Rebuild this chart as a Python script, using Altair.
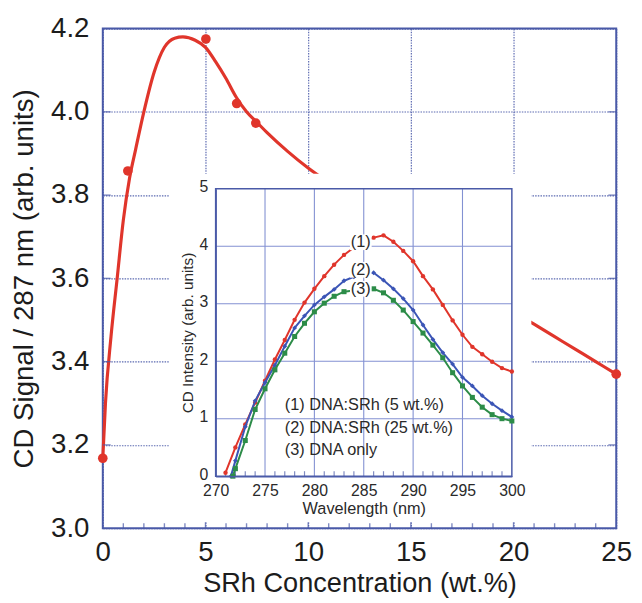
import altair as alt
import pandas as pd

# ---------------- main plot: CD signal at 287 nm vs SRh concentration ----------------
conc_meas = [0.0, 1.22, 5.02, 6.52, 7.45, 25.0]
cd_meas = [3.168, 3.858, 4.175, 4.020, 3.973, 3.370]

conc_fit = [0, 0.13, 0.4, 0.7, 1.0, 1.3, 1.6, 2.0, 2.5, 3.0, 3.5, 3.9, 4.5, 5.0, 5.5,
            6.0, 6.5, 7.0, 7.5, 8.0, 9.0, 10.0, 11.0, 12.5, 14.0, 16.0, 18.0, 20.0,
            21.0, 22.0, 23.0, 24.0, 25.0]
cd_fit = [3.168, 3.30, 3.46, 3.60, 3.74, 3.84, 3.91, 4.00, 4.095, 4.155, 4.177, 4.18,
          4.172, 4.155, 4.12, 4.08, 4.035, 4.00, 3.975, 3.95, 3.905, 3.865, 3.83, 3.78,
          3.73, 3.66, 3.59, 3.52, 3.49, 3.46, 3.43, 3.40, 3.37]

main_x_ticks = [0, 5, 10, 15, 20, 25]
main_y_ticks = [3.0, 3.2, 3.4, 3.6, 3.8, 4.0, 4.2]
main_x_minor = [1, 2, 3, 4, 6, 7, 8, 9, 11, 12, 13, 14, 16, 17, 18, 19, 21, 22, 23, 24]
main_x_major = [5, 10, 15, 20]
main_y_inner = [3.2, 3.4, 3.6, 3.8, 4.0]

# ---------------- inset: CD spectra ----------------
wl_1 = list(range(271, 301))
cd_1 = [0.06, 0.50, 0.90, 1.28, 1.66, 2.03, 2.37, 2.72, 3.02, 3.26, 3.48, 3.68, 3.85,
        3.98, 4.10, 4.15, 4.19, 4.08, 3.92, 3.74, 3.48, 3.25, 2.98, 2.71, 2.46, 2.25,
        2.12, 1.99, 1.88, 1.82]
wl_2 = [271.55] + list(range(272, 301))
cd_2 = [0.0, 0.27, 0.86, 1.31, 1.63, 1.93, 2.26, 2.58, 2.79, 2.98, 3.12, 3.25, 3.40,
        3.47, 3.52, 3.54, 3.41, 3.26, 3.09, 2.89, 2.63, 2.38, 2.15, 1.95, 1.72, 1.57,
        1.40, 1.26, 1.14, 1.03]
wl_3 = [271.75] + list(range(272, 301))
cd_3 = [0.0, 0.13, 0.62, 1.16, 1.52, 1.85, 2.14, 2.43, 2.66, 2.86, 3.01, 3.13, 3.21,
        3.23, 3.25, 3.26, 3.19, 3.06, 2.89, 2.69, 2.49, 2.28, 2.06, 1.80, 1.57, 1.37,
        1.20, 1.07, 1.00, 0.96]

inset_x_ticks = [270, 275, 280, 285, 290, 295, 300]
inset_y_ticks = [0, 1, 2, 3, 4, 5]
inset_grid_x = [275, 280, 285, 290, 295]
inset_grid_y = [1, 2, 3, 4]
inset_minor = [w for w in range(271, 300) if w % 5 != 0]

curve_labels = ["(1)", "(2)", "(3)"]
curve_label_x = [284.7, 284.7, 284.7]
curve_label_y = [4.07, 3.59, 3.26]

legend_lines = ["(1) DNA:SRh (5 wt.%)", "(2) DNA:SRh (25 wt.%)", "(3) DNA only"]
legend_x = [277.0, 277.0, 277.0]
legend_y = [1.23, 0.84, 0.46]

# ---------------- styling ----------------
FONT = "Liberation Sans"
W, H = 520, 506
AX = "#4a5aa8"
RED = "#e0352b"
BLUE = "#3b55b6"
GREEN = "#2c8c48"
GRID_IN = "#8391d2"
INK = "#1c1c1c"
INK2 = "#2a2a2a"

xm = alt.Scale(domain=[0, 25], nice=False, zero=False)
ym = alt.Scale(domain=[3.0, 4.2], nice=False, zero=False)
# inset scales live inside the main plot area (pixel ranges)
INSET_LEFT, INSET_RIGHT, INSET_BOTTOM, INSET_TOP = 114.3, 414.3, 453.3, 162.3
xi = alt.Scale(domain=[270, 300], range=[INSET_LEFT, INSET_RIGHT], nice=False, zero=False)
yi = alt.Scale(domain=[0, 5], range=[INSET_BOTTOM, INSET_TOP], nice=False, zero=False)

main_x_axis = alt.Axis(values=main_x_ticks, orient="bottom", grid=True, gridColor=AX,
                       gridDash=[1.5, 1.2], gridWidth=1.2, gridOpacity=0.9, domain=False,
                       ticks=False, tickSize=0, labelFontSize=28, labelPadding=11,
                       labelColor=INK, labelFont=FONT, labelFlush=False,
                       title="SRh Concentration (wt.%)", titleFontSize=27.5, titleFont=FONT,
                       titleFontWeight="normal", titleColor=INK, titleBaseline="top",
                       titleY=42, zindex=0)
main_y_axis = alt.Axis(values=main_y_ticks, orient="left", format=".1f", grid=True,
                       gridColor=AX, gridDash=[1.5, 1.2], gridWidth=1.2, gridOpacity=0.9,
                       domain=False, ticks=False, tickSize=0, labelFontSize=28,
                       labelPadding=14, labelColor=INK, labelFont=FONT, labelFlush=False,
                       title="CD Signal / 287 nm (arb. units)", titleFontSize=28,
                       titleFont=FONT, titleFontWeight="normal", titleColor=INK,
                       titlePadding=12, zindex=0)

inset_x_axis = alt.Axis(orient="bottom", offset=-(H - INSET_BOTTOM), values=inset_x_ticks,
                        grid=False, ticks=False, tickSize=0, domain=True, domainColor=AX,
                        domainWidth=1.5, labelFontSize=16, labelPadding=7,
                        labelFlush=False, labelColor=INK2, labelFont=FONT,
                        title="Wavelength (nm)", titleFontSize=16.5, titlePadding=2,
                        titleFontWeight="normal", titleColor=INK2, titleFont=FONT, zindex=1)
inset_y_axis = alt.Axis(orient="left", offset=-INSET_LEFT, values=inset_y_ticks,
                        grid=False, ticks=False, tickSize=0, domain=True, domainColor=AX,
                        domainWidth=1.5, labelFontSize=16, labelPadding=8, labelOffset=-2,
                        labelFlush=False, labelColor=INK2, labelFont=FONT,
                        title="CD Intensity (arb. units)", titleFontSize=15.5, titlePadding=4,
                        titleFontWeight="normal", titleColor=INK2, titleFont=FONT, zindex=1)

# ---------------- main layers ----------------
df_fit = pd.DataFrame({"c": conc_fit, "v": cd_fit})
df_meas = pd.DataFrame({"c": conc_meas, "v": cd_meas})

fit = alt.Chart(df_fit).mark_line(color=RED, strokeWidth=3.2, interpolate="monotone").encode(
    x=alt.X("c:Q", scale=xm, axis=main_x_axis),
    y=alt.Y("v:Q", scale=ym, axis=main_y_axis),
)
meas = alt.Chart(df_meas).mark_circle(color=RED, size=95, opacity=1).encode(
    x=alt.X("c:Q", scale=xm, axis=None),
    y=alt.Y("v:Q", scale=ym, axis=None),
)
xt_minor = alt.Chart(pd.DataFrame({"c": main_x_minor})).mark_tick(
    orient="vertical", size=5, thickness=1.4, yOffset=-2.5, color=AX).encode(
    x=alt.X("c:Q", scale=xm, axis=None),
    y=alt.YDatum(3.0, scale=ym, axis=None),
)
xt_major = alt.Chart(pd.DataFrame({"c": main_x_major})).mark_tick(
    orient="vertical", size=7, thickness=1.4, yOffset=-3.5, color=AX).encode(
    x=alt.X("c:Q", scale=xm, axis=None),
    y=alt.YDatum(3.0, scale=ym, axis=None),
)
yt_left = alt.Chart(pd.DataFrame({"v": main_y_inner})).mark_tick(
    orient="horizontal", size=8, thickness=1.4, xOffset=4, color=AX).encode(
    x=alt.XDatum(0, scale=xm, axis=None),
    y=alt.Y("v:Q", scale=ym, axis=None),
)
yt_right = alt.Chart(pd.DataFrame({"v": main_y_inner})).mark_tick(
    orient="horizontal", size=8, thickness=1.4, xOffset=-4, color=AX).encode(
    x=alt.XDatum(25, scale=xm, axis=None),
    y=alt.Y("v:Q", scale=ym, axis=None),
)

# white panel behind the inset
panel = alt.Chart(alt.Data(values=[{"p": 1}])).mark_rect(color="white", opacity=1).encode(
    x=alt.value(67), x2=alt.value(434), y=alt.value(147), y2=alt.value(500)
)

# ---------------- inset layers ----------------
grid_v = alt.Chart(pd.DataFrame({"w": inset_grid_x})).mark_rule(
    color=GRID_IN, strokeWidth=1.1).encode(
    x=alt.X("w:Q", scale=xi, axis=inset_x_axis),
    y=alt.YDatum(0, scale=yi, axis=inset_y_axis),
    y2=alt.Y2Datum(5),
)
grid_h = alt.Chart(pd.DataFrame({"v": inset_grid_y})).mark_rule(
    color=GRID_IN, strokeWidth=1.1).encode(
    y=alt.Y("v:Q", scale=yi, axis=None),
    x=alt.XDatum(270, scale=xi, axis=None),
    x2=alt.X2Datum(300),
)
frame = alt.Chart(alt.Data(values=[{"p": 1}])).mark_rect(
    fillOpacity=0, stroke=AX, strokeWidth=1.5).encode(
    x=alt.XDatum(270, scale=xi, axis=None),
    x2=alt.X2Datum(300),
    y=alt.YDatum(0, scale=yi, axis=None),
    y2=alt.Y2Datum(5),
)
it_minor = alt.Chart(pd.DataFrame({"w": inset_minor})).mark_tick(
    orient="vertical", size=5, thickness=1.2, yOffset=-2.5, color=AX).encode(
    x=alt.X("w:Q", scale=xi, axis=None),
    y=alt.YDatum(0, scale=yi, axis=None),
)


def series_layers(wls, vals, color, shape, size):
    d = pd.DataFrame({"w": wls, "v": vals})
    enc = dict(x=alt.X("w:Q", scale=xi, axis=None), y=alt.Y("v:Q", scale=yi, axis=None))
    line = alt.Chart(d).mark_line(color=color, strokeWidth=2).encode(**enc)
    pts = alt.Chart(d).mark_point(color=color, filled=True, shape=shape, size=size,
                                  opacity=1).encode(**enc)
    return [line, pts]


s1 = series_layers(wl_1, cd_1, RED, "circle", 20)
s2 = series_layers(wl_2, cd_2, BLUE, "diamond", 24)
s3 = series_layers(wl_3, cd_3, GREEN, "square", 26)

df_lab = pd.DataFrame({"t": curve_labels, "w": curve_label_x, "v": curve_label_y})
lab_bg = alt.Chart(df_lab).mark_point(
    shape="M-1,-0.72L1,-0.72L1,0.72L-1,0.72Z", filled=True, color="white", size=484,
    opacity=1).encode(
    x=alt.X("w:Q", scale=xi, axis=None), y=alt.Y("v:Q", scale=yi, axis=None))
lab_txt = alt.Chart(df_lab).mark_text(
    font=FONT, fontSize=16.5, color=INK2, align="center", baseline="middle").encode(
    x=alt.X("w:Q", scale=xi, axis=None), y=alt.Y("v:Q", scale=yi, axis=None), text="t:N")

df_leg = pd.DataFrame({"t": legend_lines, "w": legend_x, "v": legend_y})
leg_txt = alt.Chart(df_leg).mark_text(
    font=FONT, fontSize=16.5, color=INK2, align="left", baseline="middle").encode(
    x=alt.X("w:Q", scale=xi, axis=None), y=alt.Y("v:Q", scale=yi, axis=None), text="t:N")

chart = alt.layer(
    fit, meas, xt_minor, xt_major, yt_left, yt_right,
    panel, grid_v, grid_h, frame, it_minor,
    *s1, *s2, *s3, lab_bg, lab_txt, leg_txt,
).resolve_scale(
    x="independent", y="independent"
).properties(
    width=W, height=H,
    autosize=alt.AutoSizeParams(type="none"),
    padding={"left": 96, "top": 17, "right": 18, "bottom": 76},
    background="white",
).configure(
    font=FONT
).configure_view(
    stroke=AX, strokeWidth=2
)

chart.save("out.html", embed_options={"renderer": "svg", "actions": False})
